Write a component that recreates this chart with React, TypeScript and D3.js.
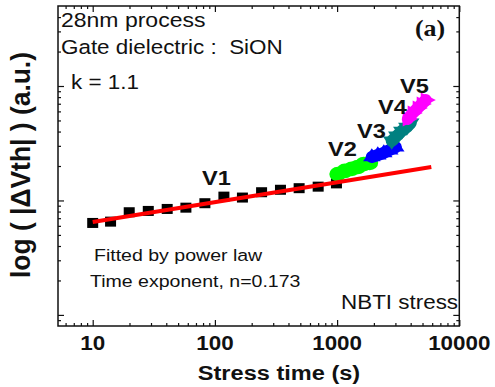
import React, { useEffect, useRef } from 'react'
import * as d3 from 'd3'

// V1: regular stress points (black squares)
const v1Time = [10, 14, 19.9, 28.5, 40.7, 57.9, 82.8, 118.5, 168, 241, 344, 489, 700, 988]
const v1Shift = [6.36, 6.53, 7.89, 8.1, 8.43, 8.65, 9.46, 10.8, 10.6, 11.8, 12.4, 12.8, 13.2, 14.1]

// V2..V5: accelerated stress segments
const v2Time = [1013, 1156, 1319, 1476, 1652, 1850]
const v2Shift = [17.0, 18.1, 18.9, 19.6, 20.8, 21.3]
const v3Time = [1923, 2153, 2411, 2698, 3020]
const v3Shift = [24.0, 24.9, 26.0, 27.6, 29.3]
const v4Time = [2800, 3078, 3383, 3719, 4005]
const v4Shift = [33.1, 36.6, 40.4, 43.8, 47.5]
const v5Time = [3786, 4159, 4571, 4929, 5316]
const v5Shift = [51.5, 58.1, 64.2, 69.6, 75.4]

// power law fit
const fitPrefactor = 4.36
const fitExponent = 0.173
const fitRange = [10, 5900]

const xTicks = [10, 100, 1000, 10000]
const xTickLabels = ['10', '100', '1000', '10000']
const yTicks = [1, 10, 100]

const App = () => {
  const ref = useRef(null)

  useEffect(() => {
    const left = 58
    const right = 459.3
    const top = 6
    const bottom = 326
    const font = 'Liberation Sans, Arial, sans-serif'

    const svg = d3.select(ref.current)
    svg.selectAll('*').remove()

    const x = d3.scaleLog().domain([5.2, 10000]).range([left, right])
    const y = d3.scaleLog().domain([0.8, 500]).range([bottom, top])

    const xMinor = []
    for (const d of [1, 10, 100, 1000]) for (let k = 2; k <= 9; k++) if (d * k > 5.2 && d * k < 10000) xMinor.push(d * k)
    const yMinor = [0.9]
    for (const d of [1, 10, 100]) for (let k = 2; k <= 9; k++) if (d * k < 500) yMinor.push(d * k)

    const addAxis = (axis, tr) => {
      const g = svg.append('g').attr('transform', tr).call(axis)
      g.select('.domain').remove()
      g.selectAll('line').attr('stroke', '#111').attr('stroke-width', 1.2)
      g.selectAll('text').remove()
    }
    addAxis(d3.axisBottom(x).tickValues(xTicks).tickSize(-6), `translate(0,${bottom})`)
    addAxis(d3.axisBottom(x).tickValues(xMinor).tickSize(-3), `translate(0,${bottom})`)
    addAxis(d3.axisTop(x).tickValues(xTicks).tickSize(-6), `translate(0,${top})`)
    addAxis(d3.axisTop(x).tickValues(xMinor).tickSize(-3), `translate(0,${top})`)
    addAxis(d3.axisLeft(y).tickValues(yTicks).tickSize(-6), `translate(${left},0)`)
    addAxis(d3.axisLeft(y).tickValues(yMinor).tickSize(-3), `translate(${left},0)`)
    addAxis(d3.axisRight(y).tickValues(yTicks).tickSize(-6), `translate(${right},0)`)
    addAxis(d3.axisRight(y).tickValues(yMinor).tickSize(-3), `translate(${right},0)`)

    svg
      .append('rect')
      .attr('x', left)
      .attr('y', top)
      .attr('width', right - left)
      .attr('height', bottom - top)
      .attr('fill', 'none')
      .attr('stroke', '#111')
      .attr('stroke-width', 1.5)

    // text is horizontally stretched in the original
    const addText = (tx, ty, str, size, opts = {}) =>
      svg
        .append('text')
        .attr('transform', `translate(${tx},${ty}) scale(1.15,1)`)
        .attr('text-anchor', opts.anchor || 'start')
        .attr('font-family', opts.family || font)
        .attr('font-weight', opts.bold ? 'bold' : 'normal')
        .attr('font-size', size)
        .attr('fill', '#111')
        .style('white-space', 'pre')
        .text(str)

    xTicks.forEach((t, i) => addText(x(t), 350, xTickLabels[i], 19.5, { anchor: 'middle', bold: true }))
    addText(279, 380, 'Stress time (s)', 20.5, { anchor: 'middle', bold: true })

    svg
      .append('text')
      .attr('transform', 'translate(30,165) scale(1.15,1) rotate(-90)')
      .attr('text-anchor', 'middle')
      .attr('font-family', font)
      .attr('font-weight', 'bold')
      .attr('font-size', 24)
      .attr('textLength', 226)
      .attr('lengthAdjust', 'spacingAndGlyphs')
      .attr('fill', '#111')
      .text('log ( |ΔVth| ) (a.u.)')

    // V1 squares
    svg
      .append('g')
      .selectAll('rect')
      .data(v1Time)
      .enter()
      .append('rect')
      .attr('x', (d) => x(d) - 5.5)
      .attr('y', (d, i) => y(v1Shift[i]) - 5)
      .attr('width', 11)
      .attr('height', 10)
      .attr('fill', '#000')

    const segment = (times, shifts, color, symbol, rotate) => {
      const pts = times.map((t, i) => [x(t), y(shifts[i])])
      svg
        .append('path')
        .attr('d', d3.line()(pts))
        .attr('fill', 'none')
        .attr('stroke', color)
        .attr('stroke-width', 12)
        .attr('stroke-linecap', 'round')
        .attr('stroke-linejoin', 'round')
      svg
        .append('g')
        .selectAll('path')
        .data(pts)
        .enter()
        .append('path')
        .attr('transform', (p) => `translate(${p[0]},${p[1]}) scale(1.15,1) rotate(${rotate})`)
        .attr('d', d3.symbol().type(symbol).size(symbol === d3.symbolCircle ? 170 : 100)())
        .attr('fill', color)
    }
    segment(v2Time, v2Shift, '#00ff00', d3.symbolCircle, 0)
    segment(v3Time, v3Shift, '#0000ff', d3.symbolTriangle, 0)
    segment(v4Time, v4Shift, '#008080', d3.symbolTriangle, 180)
    segment(v5Time, v5Shift, '#ff00ff', d3.symbolTriangle, 90)

    // fit line
    const fitPts = fitRange.map((t) => [x(t), y(fitPrefactor * Math.pow(t, fitExponent))])
    svg
      .append('path')
      .attr('d', d3.line()(fitPts))
      .attr('stroke', '#ff0000')
      .attr('stroke-width', 4)
      .attr('fill', 'none')

    // annotations
    addText(61, 27, '28nm process', 20)
    addText(61, 53.5, 'Gate dielectric :  SiON', 19.5)
    addText(71, 89, 'k = 1.1', 19.5)
    addText(415, 36, '(a)', 22.5, { bold: true, family: 'Liberation Serif, Times New Roman, serif' })
    addText(202, 185, 'V1', 20.5, { bold: true })
    addText(328, 156, 'V2', 20.5, { bold: true })
    addText(357, 138, 'V3', 20.5, { bold: true })
    addText(378, 114, 'V4', 20.5, { bold: true })
    addText(400, 93, 'V5', 20.5, { bold: true })
    addText(94, 261, 'Fitted by power law', 17)
    addText(90, 287, 'Time exponent, n=0.173', 17)
    addText(341, 309, 'NBTI stress', 19.5)
  }, [])

  return (
    <svg
      ref={ref}
      width={495}
      height={387}
      style={{ position: 'absolute', left: 0, top: 0, background: '#fff' }}
    ></svg>
  )
}

export default App
